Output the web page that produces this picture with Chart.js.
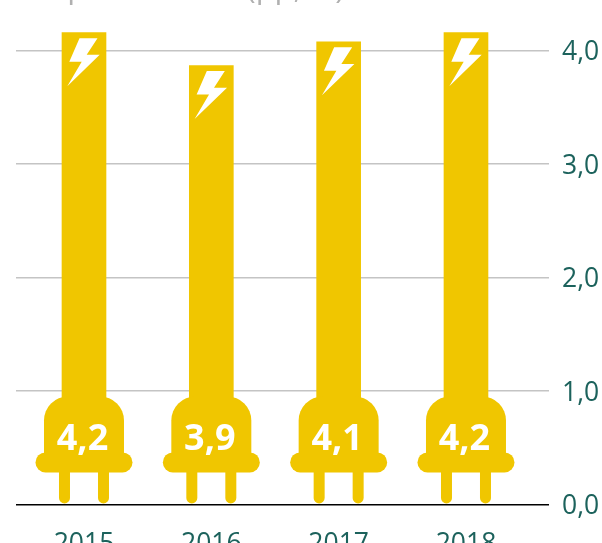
<!DOCTYPE html>
<html>
<head>
<meta charset="utf-8">
<style>
  html, body { margin: 0; padding: 0; background: #fff; overflow: hidden; }
  #wrap { width: 602px; height: 543px; }
</style>
<script src="https://cdn.jsdelivr.net/npm/chart.js@4/dist/chart.umd.min.js"></script>
</head>
<body>
<div id="wrap"><canvas id="chart"></canvas></div>
<script>
const years = [2015, 2016, 2017, 2018];
const values = [4.16, 3.87, 4.08, 4.16];
const yTicks = [0, 1, 2, 3, 4];
const titleText = "Importaciones (pp, %)";

const YELLOW = "#f0c600";
const TEAL = "#1c625c";
const FONT = "'Open Sans', sans-serif";

const comma = (v) => v.toFixed(1).replace(".", ",");

// plug + bolt are drawn around each bar, offsets are from bar centre / bar top
const plugPlugin = {
  id: "plug",
  beforeDraw(chart) {
    // y tick labels sit a bit below their gridline in the original
    chart.scales.y.getLabelItems().forEach((item) => {
      item.textOffset += 2;
    });
  },
  afterDatasetsDraw(chart) {
    const { ctx } = chart;
    const base = chart.scales.y.getPixelForValue(0);
    chart.getDatasetMeta(0).data.forEach((bar, i) => {
      const x = bar.x;
      ctx.save();
      ctx.fillStyle = YELLOW;

      // prongs
      [-19.5, 19.5].forEach((dx) => {
        ctx.beginPath();
        ctx.roundRect(x + dx - 5.5, base - 40, 11, 39, 5.5);
        ctx.fill();
      });
      // flange
      ctx.beginPath();
      ctx.roundRect(x - 48.5, base - 52, 97, 20, 10);
      ctx.fill();
      // body
      ctx.beginPath();
      ctx.roundRect(x - 40, base - 108, 80, 66, [24, 24, 0, 0]);
      ctx.fill();

      // bolt
      const t = bar.y + 5.5;
      ctx.fillStyle = "#fff";
      ctx.beginPath();
      ctx.moveTo(x + 13.5, t);
      ctx.lineTo(x - 4.5, t);
      ctx.lineTo(x - 14.7, t + 23.5);
      ctx.lineTo(x - 2.3, t + 23.5);
      ctx.lineTo(x - 16.7, t + 48);
      ctx.lineTo(x + 15.7, t + 16.7);
      ctx.lineTo(x + 2.7, t + 16.7);
      ctx.closePath();
      ctx.fill();

      // value
      ctx.font = "bold 36px " + FONT;
      ctx.textAlign = "center";
      ctx.textBaseline = "middle";
      ctx.fillText(comma(values[i]), x - 1.5, base - 65);
      ctx.restore();
    });

    // title sits above the canvas edge, only its descenders show
    ctx.save();
    ctx.font = "31px " + FONT;
    ctx.fillStyle = "#b0b0b0";
    ctx.textAlign = "left";
    ctx.textBaseline = "alphabetic";
    ctx.fillText(titleText, 30, -2);
    ctx.restore();
  },
};

new Chart(document.getElementById("chart"), {
  type: "bar",
  plugins: [plugPlugin],
  data: {
    labels: years,
    datasets: [
      {
        data: values,
        backgroundColor: YELLOW,
        barThickness: 44,
        base: 0.5,
      },
    ],
  },
  options: {
    responsive: true,
    maintainAspectRatio: false,
    animation: false,
    layout: { padding: { left: 16, right: 0, top: 0, bottom: 0 } },
    plugins: {
      legend: { display: false },
      title: { display: false },
      tooltip: { enabled: false },
    },
    scales: {
      x: {
        type: "linear",
        offset: false,
        min: 2014.466,
        max: 2018.652,
        grid: { display: false },
        border: { display: false },
        afterBuildTicks: (scale) => {
          scale.ticks = years.map((y) => ({ value: y }));
        },
        afterFit: (scale) => {
          scale.height = 38.6;
          scale.paddingLeft = 0;
          scale.paddingRight = 0;
        },
        ticks: {
          autoSkip: false,
          maxRotation: 0,
          padding: 16,
          color: TEAL,
          font: { family: FONT, size: 26.5 },
          callback: (v) => String(v),
        },
      },
      y: {
        position: "right",
        min: 0,
        max: 4.448,
        border: { display: false },
        grid: {
          drawTicks: false,
          lineWidth: 1.5,
          color: (c) => (c.tick.value === 0 ? "#000" : "#c4c4c4"),
        },
        afterBuildTicks: (scale) => {
          scale.ticks = yTicks.map((v) => ({ value: v }));
        },
        afterFit: (scale) => {
          scale.width = 53;
          scale.paddingTop = 0;
          scale.paddingBottom = 0;
        },
        ticks: {
          padding: 13,
          color: TEAL,
          font: { family: FONT, size: 26.5 },
          callback: (v) => comma(v),
        },
      },
    },
  },
});
</script>
</body>
</html>
